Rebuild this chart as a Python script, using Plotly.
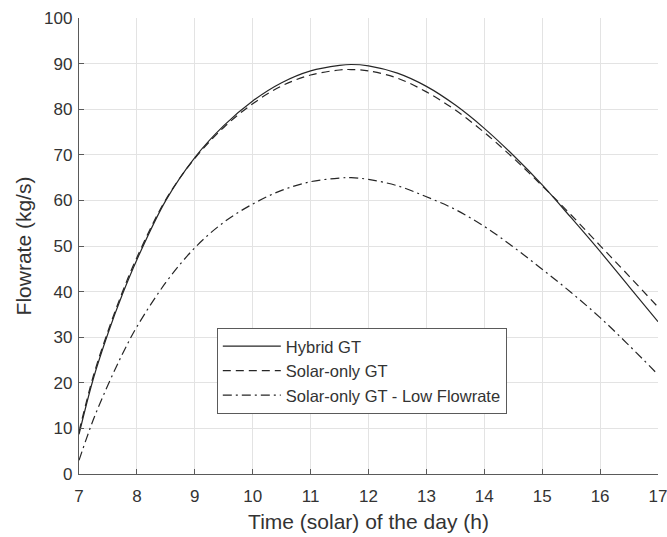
import plotly.graph_objects as go

# Time (solar) of the day (h)
time_h = [7, 7.25, 7.5, 7.75, 8, 8.5, 9, 9.5, 10, 10.5, 11, 11.5, 11.7, 12,
          12.5, 13, 13.5, 14, 14.5, 15, 15.5, 16, 16.5, 17]

# Flowrate (kg/s)
hybrid_gt = [8.7, 21.0, 30.8, 39.4, 47.0, 60.0, 69.4, 76.4, 81.8, 85.8, 88.4, 89.6, 89.8, 89.5,
             87.9, 85.0, 80.9, 75.8, 69.9, 63.4, 56.2, 48.8, 41.1, 33.4]
solar_only_gt = [9.3, 21.6, 31.3, 39.9, 47.5, 60.2, 69.2, 76.0, 81.2, 85.1, 87.5, 88.6, 88.7, 88.4,
                 86.8, 83.8, 79.8, 74.9, 69.3, 63.2, 56.8, 50.1, 43.4, 36.6]
solar_only_low = [3.0, 12.0, 19.5, 26.3, 32.3, 42.0, 49.6, 55.2, 59.2, 62.2, 64.1, 64.9, 65.0, 64.6,
                  63.2, 60.8, 58.0, 54.3, 49.8, 44.9, 39.8, 34.3, 28.2, 21.8]

series_names = ["Hybrid GT", "Solar-only GT", "Solar-only GT - Low Flowrate"]
x_ticks = list(range(7, 18))
y_ticks = list(range(0, 101, 10))

FONT = "Liberation Sans, Arial, sans-serif"
TXT = "#333333"
LINE = "#262626"
AX = "#5a5a5a"

fig = go.Figure()
styles = ["solid", "8px,5px", "9px,4px,2px,4px"]
for name, vals, dash in zip(series_names, [hybrid_gt, solar_only_gt, solar_only_low], styles):
    fig.add_trace(go.Scatter(
        x=time_h, y=vals, mode="lines", name=name,
        line=dict(color=LINE, width=1.2, dash=dash, shape="spline", smoothing=1.0),
    ))

fig.update_layout(
    width=667, height=537,
    margin=dict(l=79, r=9, t=18, b=63, autoexpand=False),
    paper_bgcolor="white", plot_bgcolor="white",
    font=dict(family=FONT, color=TXT, size=17),
    showlegend=True,
    legend=dict(
        x=0.238, y=0.226, xanchor="left", yanchor="middle",
        bgcolor="white", bordercolor=AX, borderwidth=1,
        font=dict(family=FONT, size=16.5, color=TXT),
        tracegroupgap=0, itemwidth=58,
    ),
)

fig.update_xaxes(
    range=[7, 17], tickvals=x_ticks, ticktext=[str(t) for t in x_ticks],
    showgrid=True, gridcolor="#e3e3e3", gridwidth=1,
    showline=True, linecolor=AX, linewidth=1.3,
    ticks="inside", ticklen=5, tickcolor=AX,
    tickfont=dict(size=17, color=TXT), ticklabelstandoff=6,
    ticklabeloverflow="allow", automargin=False,
    zeroline=False,
    title=dict(text="Time (solar) of the day (h)", font=dict(size=21, color=TXT), standoff=9),
)
fig.update_yaxes(
    range=[0, 100], tickvals=y_ticks, ticktext=[str(t) for t in y_ticks],
    showgrid=True, gridcolor="#e3e3e3", gridwidth=1,
    showline=True, linecolor=AX, linewidth=1.3,
    ticks="inside", ticklen=5, tickcolor=AX,
    tickfont=dict(size=17, color=TXT), ticklabelstandoff=2,
    ticklabeloverflow="allow", automargin=False,
    zeroline=False,
    title=dict(text="Flowrate (kg/s)", font=dict(size=21, color=TXT), standoff=6),
)

fig.write_html("out.html")
